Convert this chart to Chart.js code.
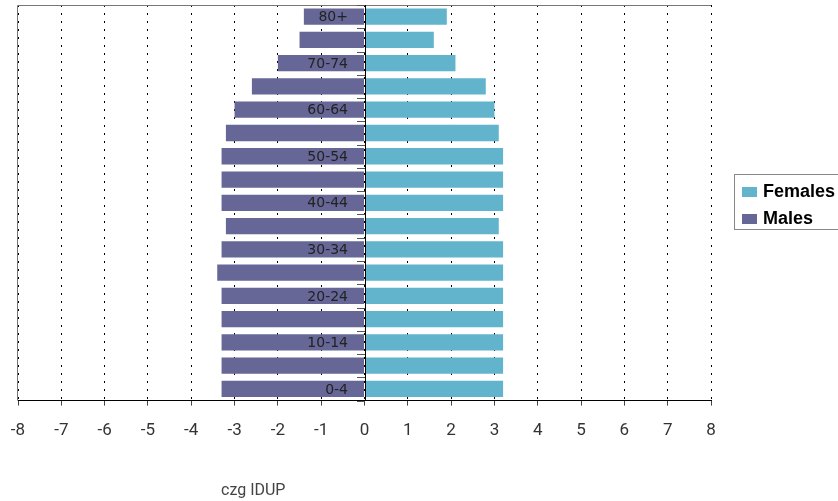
<!DOCTYPE html>
<html>
<head>
<meta charset="utf-8">
<script src="https://cdn.jsdelivr.net/npm/chart.js@4/dist/chart.umd.min.js"></script>
<style>
  html, body { margin: 0; padding: 0; background: #fff; }
  #wrap { width: 838px; height: 501px; position: relative; }
</style>
</head>
<body>
<div id="wrap"><canvas id="c" width="838" height="501"></canvas></div>
<script>
// Age groups, bottom (youngest) to top (oldest)
const categories = ['0-4','5-9','10-14','15-19','20-24','25-29','30-34','35-39','40-44','45-49','50-54','55-59','60-64','65-69','70-74','75-79','80+'];
// Percent of population (males plotted as negative values)
const males   = [-3.3,-3.3,-3.3,-3.3,-3.3,-3.4,-3.3,-3.2,-3.3,-3.3,-3.3,-3.2,-3.0,-2.6,-2.0,-1.5,-1.4];
const females = [ 3.2, 3.2, 3.2, 3.2, 3.2, 3.2, 3.2, 3.1, 3.2, 3.2, 3.2, 3.1, 3.0, 2.8, 2.1, 1.6, 1.9];
const xTicks  = [-8,-7,-6,-5,-4,-3,-2,-1,0,1,2,3,4,5,6,7,8];
const seriesNames = ['Females', 'Males'];
const footText = 'czg IDUP';

const COLORS = { Females: '#61b4cc', Males: '#666697' };

const framePlugin = {
  id: 'frame',
  beforeDatasetsDraw(chart) {
    const { ctx, chartArea: a } = chart;
    ctx.save();
    ctx.strokeStyle = '#777';
    ctx.lineWidth = 1;
    ctx.beginPath();
    ctx.moveTo(a.left - 0.5, a.bottom);
    ctx.lineTo(a.left - 0.5, a.top + 0.5);
    ctx.lineTo(a.right, a.top + 0.5);
    ctx.stroke();
    ctx.restore();
  }
};

// Category labels and tick marks drawn along the vertical axis at x = 0
const yAxisAtZeroPlugin = {
  id: 'yAxisAtZero',
  afterDatasetsDraw(chart) {
    const { ctx, scales: { x, y } } = chart;
    const x0 = Math.round(x.getPixelForValue(0));
    ctx.save();
    ctx.strokeStyle = '#555';
    ctx.lineWidth = 1;
    ctx.beginPath();
    for (let i = 0; i <= categories.length; i++) {
      const yy = Math.round(y.getPixelForValue(i - 0.5)) + 0.5;
      ctx.moveTo(x0 - 8, yy);
      ctx.lineTo(x0, yy);
    }
    ctx.stroke();
    ctx.strokeStyle = '#000';
    ctx.beginPath();
    ctx.moveTo(x0 + 0.5, chart.chartArea.top);
    ctx.lineTo(x0 + 0.5, chart.chartArea.bottom);
    ctx.stroke();
    ctx.font = '14px "DejaVu Sans", sans-serif';
    ctx.fillStyle = '#222';
    ctx.textAlign = 'right';
    ctx.textBaseline = 'middle';
    categories.forEach((c, i) => {
      if (i % 2 === 0) ctx.fillText(c, x0 - 17, y.getPixelForValue(i) + 1);
    });
    ctx.restore();
  }
};

const legendPlugin = {
  id: 'customLegend',
  afterDraw(chart) {
    const { ctx, chartArea: a } = chart;
    const left = a.right + 23;
    const top = 174;
    ctx.save();
    ctx.strokeStyle = '#888';
    ctx.lineWidth = 1;
    ctx.strokeRect(left + 0.5, top + 0.5, 200, 55);
    ctx.font = 'bold 18px "Liberation Sans", Arial, sans-serif';
    ctx.textBaseline = 'middle';
    seriesNames.forEach((name, i) => {
      const cy = top + 18 + i * 27;
      ctx.fillStyle = COLORS[name];
      ctx.fillRect(left + 8, cy - 5, 15, 10);
      ctx.fillStyle = '#000';
      ctx.fillText(name, left + 29, cy);
    });
    ctx.restore();
  }
};

const footPlugin = {
  id: 'foot',
  afterDraw(chart) {
    const { ctx } = chart;
    ctx.save();
    ctx.font = '16px Roboto, sans-serif';
    ctx.fillStyle = '#444';
    ctx.textBaseline = 'alphabetic';
    ctx.fillText(footText, 221, 495);
    ctx.restore();
  }
};

new Chart(document.getElementById('c'), {
  type: 'bar',
  data: {
    labels: categories,
    datasets: [
      { label: 'Males', data: males, backgroundColor: COLORS.Males, barPercentage: 0.7, categoryPercentage: 1.0 },
      { label: 'Females', data: females, backgroundColor: COLORS.Females, barPercentage: 0.7, categoryPercentage: 1.0 }
    ]
  },
  options: {
    indexAxis: 'y',
    responsive: false,
    animation: false,
    layout: { padding: { top: 5, left: 18, right: 127, bottom: 45 } },
    plugins: {
      legend: { display: false },
      tooltip: { enabled: false },
      title: { display: false }
    },
    scales: {
      x: {
        type: 'linear',
        stacked: true,
        min: -8, max: 8,
        afterBuildTicks(scale) { scale.ticks = xTicks.map(v => ({ value: v })); },
        afterFit(scale) { scale.paddingLeft = 0; scale.paddingRight = 0; },
        ticks: {
          font: { family: 'Roboto, sans-serif', size: 17 },
          color: '#333',
          padding: 15,
          maxRotation: 0
        },
        grid: {
          color: '#000',
          lineWidth: 1,
          drawTicks: true,
          tickLength: 5,
          tickColor: '#444',
          tickBorderDash: []
        },
        border: { display: true, color: '#000', width: 1, dash: [2, 6] }
      },
      y: {
        type: 'category',
        stacked: true,
        reverse: true,
        display: false
      }
    }
  },
  plugins: [framePlugin, yAxisAtZeroPlugin, legendPlugin, footPlugin]
});
</script>
</body>
</html>
